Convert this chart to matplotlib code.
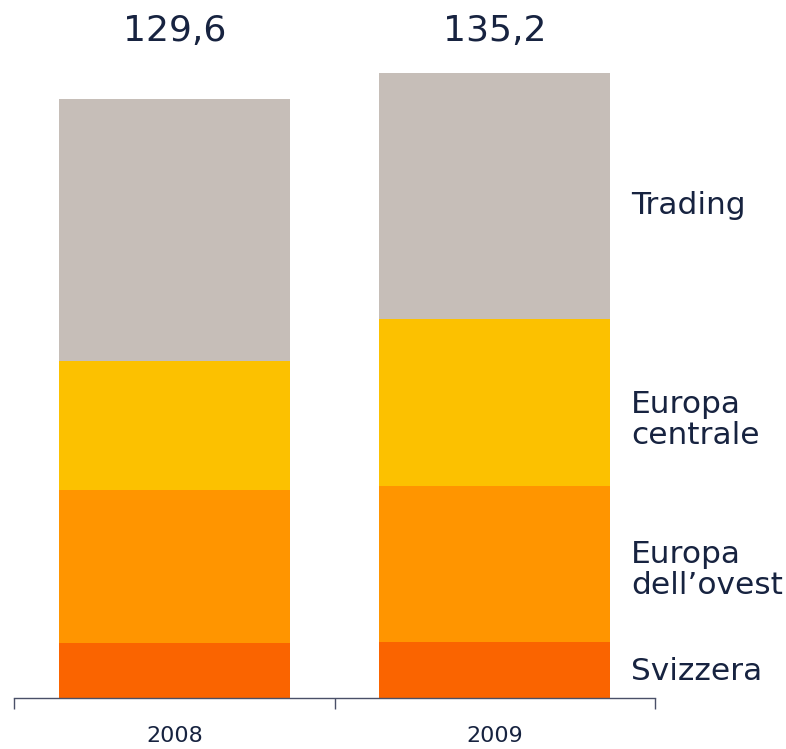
import matplotlib
matplotlib.use("Agg")
import matplotlib.pyplot as plt
import numpy as np

years = ["2008", "2009"]
series_names = ["Svizzera", "Europa\ndell\u2019ovest", "Europa\ncentrale", "Trading"]
svizzera = [11.9, 12.1]
europa_ovest = [33.1, 33.8]
europa_centrale = [27.9, 36.1]
trading = [56.7, 53.2]
totals_text = ["129,6", "135,2"]

colors = ["#FA6400", "#FF9500", "#FCC100", "#C6BEB8"]
text_color = "#172340"

W, H = 786, 749
fig = plt.figure(figsize=(W / 100, H / 100), dpi=100)
ax = fig.add_axes([14 / W, (H - 698) / H, (655 - 14) / W, 698 / H])

x = np.arange(len(years))
bottom = np.zeros(len(years))
for vals, c in zip([svizzera, europa_ovest, europa_centrale, trading], colors):
    ax.bar(x, vals, width=0.72, bottom=bottom, color=c, edgecolor="none")
    bottom += np.array(vals)

ax.set_xlim(-0.5, 1.5)
ax.set_ylim(0, 698 / 4.622)

for s in ["top", "right", "left"]:
    ax.spines[s].set_visible(False)
ax.spines["bottom"].set_color("#4a5068")
ax.spines["bottom"].set_linewidth(1.0)
ax.set_yticks([])
ax.set_xticks([-0.5, 0.5, 1.5], minor=False)
ax.set_xticklabels([])
ax.tick_params(axis="x", which="major", length=8, width=1.0, color="#4a5068")
ax.set_xticks(x, minor=True)
ax.set_xticklabels(years, minor=True)
ax.tick_params(axis="x", which="minor", length=0, pad=20, labelsize=16, labelcolor=text_color)

for xi, t in zip(x, totals_text):
    ax.annotate(t, xy=(xi, 1 - 31 / H), xycoords=("data", "figure fraction"),
                ha="center", va="center", fontsize=26, color=text_color)

label_y = [671, 570, 420, 205]
for name, yp in zip(series_names, label_y):
    fig.text(631 / W, 1 - yp / H, name, ha="left", va="center", fontsize=22.5,
             color=text_color, linespacing=1.12)

fig.savefig("out.png", dpi=100)
